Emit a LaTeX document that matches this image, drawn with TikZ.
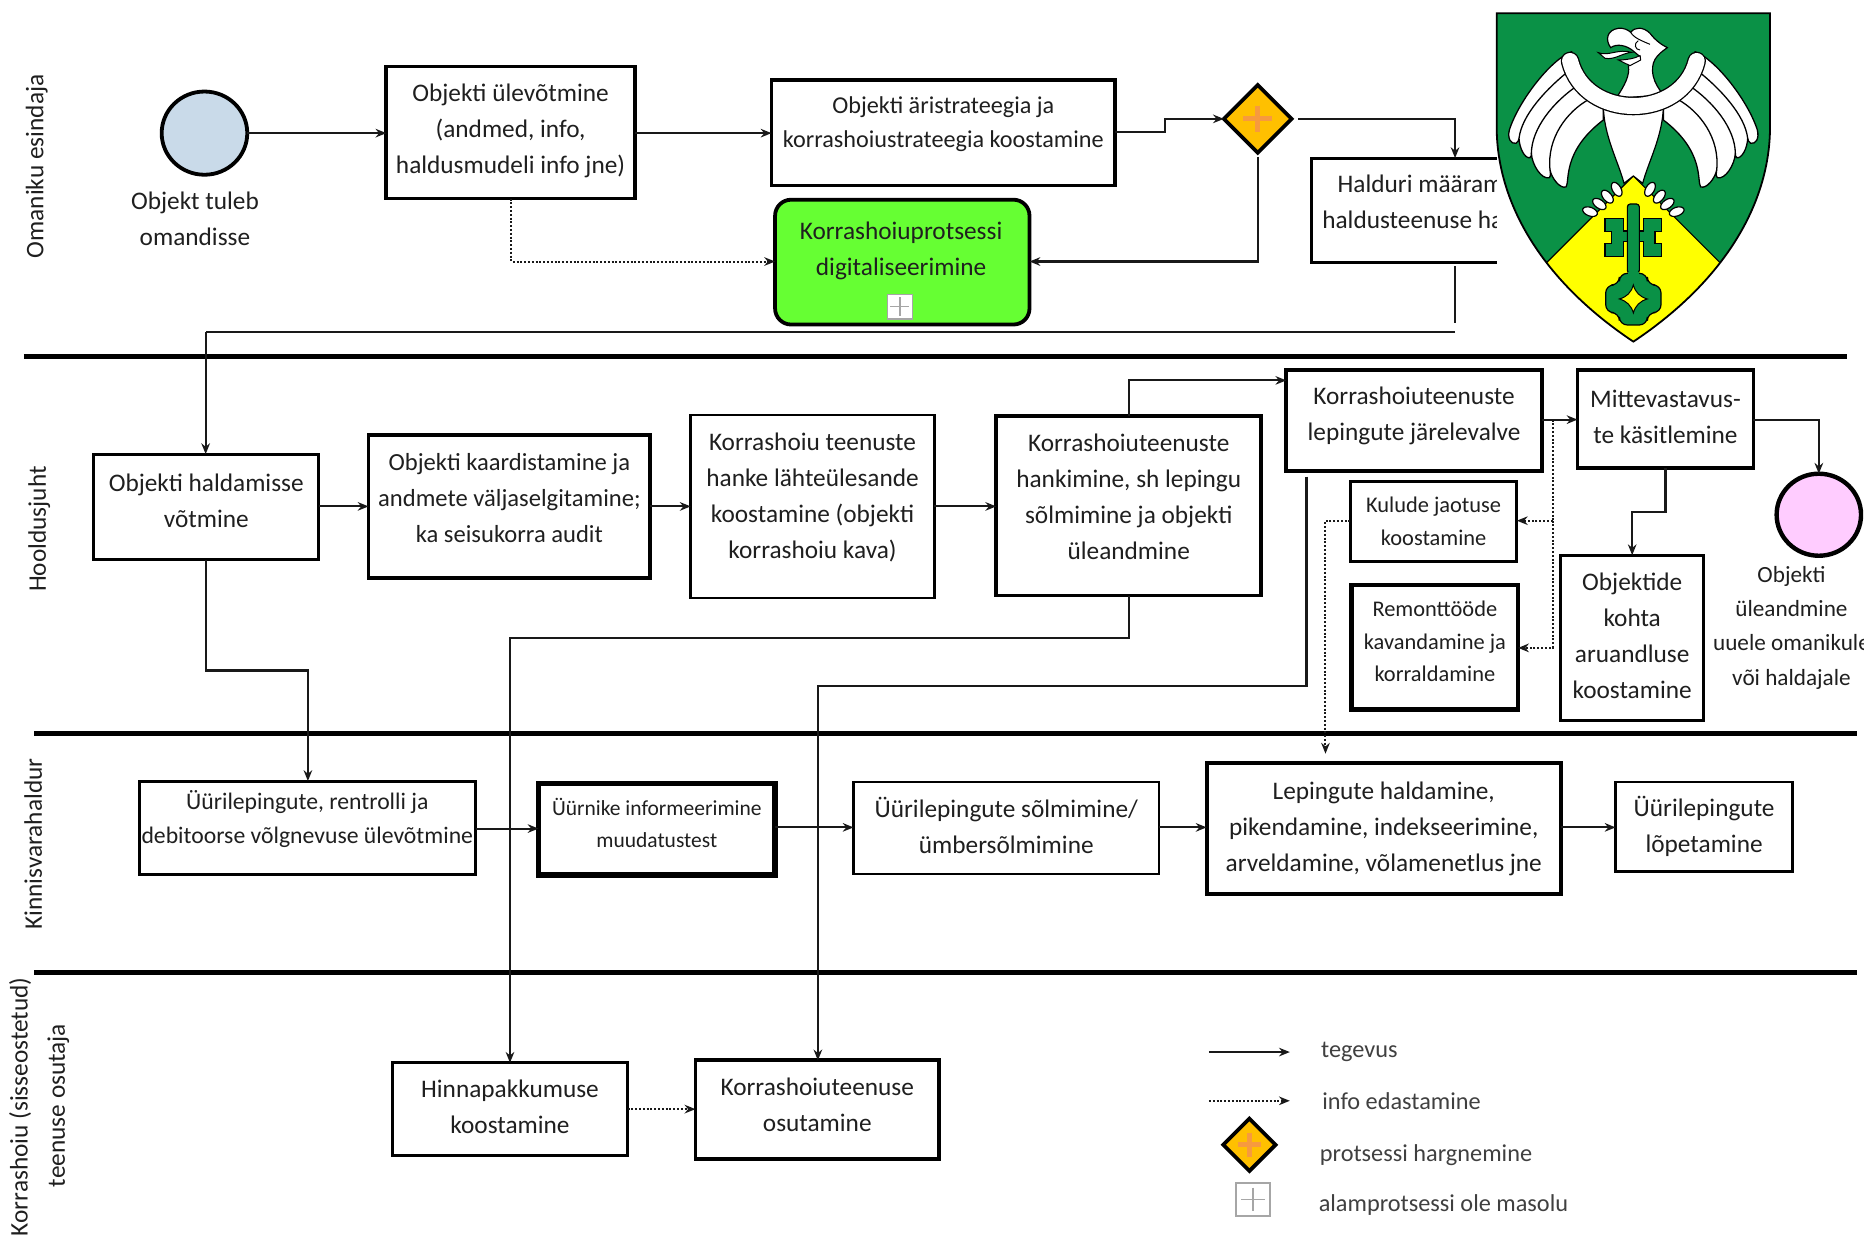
\documentclass[tikz,border=0pt]{standalone}
\usepackage{fontspec}
\setmainfont{Carlito}
\usetikzlibrary{arrows.meta,shapes.geometric}
\definecolor{ink}{HTML}{1F1F1F}
\definecolor{gold}{HTML}{FFC000}
\definecolor{plusc}{HTML}{F79A3E}
\definecolor{lime}{HTML}{66FF33}
\definecolor{startc}{HTML}{C9DAE9}
\definecolor{endc}{HTML}{FFCCFF}
\definecolor{crestg}{HTML}{0A9146}
\definecolor{cresty}{HTML}{FFFF00}
\def\uu{0.5944}
\newcommand\up[1]{\par\vspace{#1pt}}
\newcommand\bx[7]{\node[#2, minimum width={(#5-#3)*\uu}, minimum height={(#6-#4)*\uu}] (#1) at ({(#3+#5)/2},{(#4+#6)/2}) {#7};}
\newcommand\halfcrest{%
  \draw[black,fill=white,line width=.65pt,line join=round] (245,140) .. controls (180,165) and (85,290) .. (58,375) .. controls (52,400) and (62,418) .. (78,415) .. controls (84,412) and (86,405) .. (87,400) .. controls (88,430) and (105,462) .. (120,458) .. controls (124,455) and (124,450) .. (124,445) .. controls (126,480) and (155,525) .. (178,518) .. controls (184,512) and (180,500) .. (180,495) .. controls (185,520) and (210,552) .. (228,546) .. controls (240,530) and (215,440) .. (340,345) -- (340,300) -- (245,180) -- cycle;
  \draw[black,line width=.65pt] (240,195) .. controls (170,250) and (95,330) .. (87,400);
  \draw[black,line width=.65pt] (265,240) .. controls (190,290) and (125,370) .. (124,445);
  \draw[black,line width=.65pt] (297,283) .. controls (230,320) and (170,400) .. (180,495);
}
\newcommand\halfbow{%
  \draw[black,fill=crestg,line width=.6pt] (345,640)--(400,640)--(400,678)--(412,678)--(412,710)--(400,710)--(400,755)--(345,755)--(345,715)--(365,715)--(365,680)--(345,680)--cycle;
}
\newcommand\claws{%
  \foreach \xx/\yy/\aa in {380/553/-60,352/575/-50,328/597/-35,300/620/-20}{
    \draw[black,fill=white,line width=.6pt,rotate around={\aa:(\xx,\yy)}] (\xx,\yy) ellipse [x radius=23,y radius=13];}
}
\tikzset{
  fs/.style 2 args={font=\fontsize{#1}{#2}\selectfont},
  base/.style={draw=black,fill=white,inner sep=0pt,outer sep=0pt,align=center,text=ink,fs={12.65}{18}},
  thinbox/.style={base,line width=1.2pt},
  midbox/.style={base,line width=1.5pt},
  thickbox/.style={base,line width=1.9pt},
  heavybox/.style={base,line width=2.2pt},
  boldbox/.style={base,line width=2.8pt},
  greenbox/.style={base,line width=1.9pt,fill=lime,rounded corners=8pt},
  label/.style={inner sep=0pt,align=center,text=ink,fs={12.65}{18}},
  lanetext/.style={inner sep=0pt,align=center,text=ink,rotate=90,fs={12.65}{18}},
  legendtext/.style={inner sep=0pt,anchor=west,text=black!75,fs={12.15}{14}},
  lane/.style={line width=2.5pt,black},
  arr/.style={draw=black!90,line width=1.05pt,-{Stealth[length=5.4pt,width=4.3pt]}},
  plain/.style={draw=black!90,line width=1.05pt},
  dot/.style={draw=black!90,line width=1pt,dash pattern=on 1pt off .9pt,-{Stealth[length=5.4pt,width=4.3pt]}},
  dotplain/.style={draw=black!90,line width=1pt,dash pattern=on 1pt off .9pt},
  gate/.style={diamond,aspect=1,draw=black,fill=gold,line width=1.9pt,inner sep=0pt,outer sep=0pt},
  evt/.style={ellipse,draw=black,line width=1.9pt,inner sep=0pt,outer sep=0pt},
  sub/.style={draw=black!35,fill=white,line width=.7pt,inner sep=0pt,outer sep=0pt},
  plusmark/.style={plusc,line width=2.6pt},
  submark/.style={black!35,line width=.6pt},
}
\begin{document}
\begin{tikzpicture}[x=0.5944pt,y=-0.5944pt]
\useasboundingbox (0,0) rectangle (1568,1042.3);
\clip (0,0) rectangle (1568,1042.3);
\fill[white] (0,0) rectangle (1568,1042.3);
% lanes
\coordinate (l1a) at (20,300); \coordinate (l1b) at (1554,300);
\coordinate (l2a) at (29,617); \coordinate (l2b) at (1562,617);
\coordinate (l3a) at (29,818); \coordinate (l3b) at (1562,818);
\draw[lane] (l1a) -- (l1b); \draw[lane] (l2a) -- (l2b); \draw[lane] (l3a) -- (l3b);
\node[lanetext] (t1) at (31,140) {Omaniku esindaja};
\node[lanetext] (t2) at (33,445) {Hooldusjuht};
\node[lanetext] (t3) at (28,710) {Kinnisvarahaldur};
\node[lanetext] (t4) at (17,931) {Korrashoiu (sisseostetud)};
\node[lanetext] (t5) at (49,930) {teenuse osutaja};
% row 1
\node[evt,fill=startc,minimum width=72*\uu,minimum height=70*\uu] (start) at (172,112) {};
\node[label] (startl) at (164,184) {Objekt tuleb\\omandisse};
\bx{b1}{thickbox}{325}{56}{534}{167}{Objekti ülevõtmine\\(andmed, info,\\haldusmudeli info jne)\up{1.2}}
\bx{b2}{thickbox,fs={12.1}{17.3}}{649}{67}{938}{156}{Objekti äristrateegia ja\\korrashoiustrateegia koostamine\up{8.3}}
\node[gate,minimum width=57*\uu,minimum height=57*\uu] (gw) at (1058,100) {};
\draw[plusmark] (1058,89) -- (1058,111) (1046,100) -- (1070,100);
\bx{h}{midbox}{1103}{133}{1300}{221}{}
\node[label,anchor=west,align=left] (ht) at (1112,170) {\hspace*{7.7pt}Halduri määram\\haldusteenuse ha};
\bx{g}{greenbox}{652}{168}{866}{273}{}
\node[label] (gt) at (758,211) {Korrashoiuprotsessi\\digitaliseerimine};
\node[sub,minimum size=21*\uu] (gi) at (757,258) {};
\draw[submark] (757,250) -- (757,266) (749,258) -- (765,258);
\coordinate (j1) at (980,111); \coordinate (j2) at (980,100);
\coordinate (gwo) at (1092,100); \coordinate (gwb) at (1058,132);
\coordinate (hin) at (1224,133); \coordinate (gin) at (1058,220);
\coordinate (din) at (430,220);
\coordinate (ho) at (1224,224); \coordinate (ho2) at (1224,272);
\coordinate (ho3) at (1224,279); \coordinate (ho4) at (173,279);
\draw[arr] (start.east) -- (start.east -| b1.west);
\draw[arr] (b1.east |- 0,112) -- (b2.west |- 0,112);
\draw[arr] (b2.east |- j1) -- (j1) -- (j2) -- (gw.west);
\draw[arr] (gwo) -| (hin);
\draw[arr] (gwb) -- (gin) -- (gin -| g.east);
\draw[dot] (din |- b1.south) -- (din) -- (din -| g.west);
% row 2
\bx{c1}{midbox}{79}{382}{268}{471}{Objekti haldamisse\\võtmine\up{5.9}}
\bx{c2}{thickbox,fs={12.3}{18}}{310}{366}{547}{486}{Objekti kaardistamine ja\\andmete väljaselgitamine;\\ka seisukorra audit\up{8.3}}
\bx{c3}{thinbox}{581}{349}{786}{503}{Korrashoiu teenuste\\hanke lähteülesande\\koostamine (objekti\\korrashoiu kava)\up{8.9}}
\bx{c4}{thickbox}{838}{350}{1061}{501}{Korrashoiuteenuste\\hankimine, sh lepingu\\sõlmimine ja objekti\\üleandmine\up{8.9}}
\bx{c5}{heavybox}{1082}{311}{1297}{396}{Korrashoiuteenuste\\lepingute järelevalve\up{4.8}}
\bx{c6}{thickbox}{1327}{311}{1475}{394}{Mittevastavus-\\te käsitlemine\up{2.4}}
\bx{c7}{midbox,fs={11.2}{16.6}}{1136}{405}{1276}{472}{Kulude jaotuse\\koostamine}
\bx{c8}{heavybox,fs={11.2}{16.2}}{1137}{492}{1277}{597}{Remonttööde\\kavandamine ja\\korraldamine\up{5.9}}
\bx{c9}{midbox}{1313}{467}{1433}{606}{Objektide\\kohta\\aruandluse\\koostamine\up{2.4}}
\node[evt,fill=endc,line width=2.2pt,minimum width=71*\uu,minimum height=69*\uu] (endn) at (1530,433) {};
\node[label,fs={11.6}{17.1}] (endl) at (1507,528) {Objekti\\üleandmine\\uuele omanikule\\või haldajale};
\coordinate (k1) at (950,320);
\coordinate (m1) at (1401,431); \coordinate (m2) at (1373,431);
\coordinate (d0) at (1306,353); \coordinate (d1c) at (1306,438); \coordinate (d2c) at (1306,545);
\coordinate (d3c) at (1115,438);
\coordinate (s0) at (1099,401); \coordinate (s1) at (1099,577); \coordinate (s2) at (688,577);
\coordinate (n1) at (950,537); \coordinate (n2) at (429,537);
\coordinate (o1) at (173,564); \coordinate (o2) at (259,564);
\draw[arr] (ho4) -- (ho4 |- c1.north);
\draw[plain] (ho) -- (ho2);
\draw[plain] (ho3) -- (ho4);
\draw[arr] (c1.east |- 0,426) -- (c2.west |- 0,426);
\draw[arr] (c2.east |- 0,426) -- (c3.west |- 0,426);
\draw[arr] (c3.east |- 0,426) -- (c4.west |- 0,426);
\draw[arr] (k1 |- c4.north) -- (k1) -- (k1 -| c5.west);
\draw[arr] (c5.east |- d0) -- (d0 -| c6.west);
\draw[arr] (c6.east |- d0) -| (endn.north);
\draw[arr] (m1 |- c6.south) -- (m1) -- (m2) -- (m2 |- c9.north);
\draw[dotplain] (d0) -- (d1c);
\draw[dot] (d1c) -- (d1c -| c7.east);
\draw[dot] (d1c) -- (d2c) -- (d2c -| c8.east);
% row 3
\bx{e1}{midbox,fs={11.85}{17.3}}{117}{657}{400}{736}{Üürilepingute, rentrolli ja\\debitoorse võlgnevuse ülevõtmine\up{8.9}}
\bx{e2}{boldbox,fs={10.75}{16}}{453}{659}{652}{736}{Üürnike informeerimine\\muudatustest\up{5.9}}
\bx{e3}{thinbox}{718}{658}{975}{735}{Üürilepingute sõlmimine/\\ümbersõlmimine\up{2.4}}
\bx{e4}{thickbox}{1015}{642}{1313}{752}{Lepingute haldamine,\\pikendamine, indekseerimine,\\arveldamine, võlamenetlus jne}
\bx{e5}{thinbox}{1359}{658}{1508}{733}{Üürilepingute\\lõpetamine}
\draw[dot] (c7.west |- d3c) -- (d3c) -- (d3c |- 0,634);
\draw[arr] (c1.south -| o1) -- (o1) -- (o2) -- (e1.north -| o2);
\draw[arr] (e1.east |- 0,697) -- (e2.west |- 0,697);
\draw[arr] (e2.east |- 0,696) -- (e3.west |- 0,696);
\draw[arr] (e3.east |- 0,696) -- (e4.west |- 0,696);
\draw[arr] (e4.east |- 0,696) -- (e5.west |- 0,696);
% row 4
\bx{f1}{midbox}{330}{894}{528}{972}{Hinnapakkumuse\\koostamine\up{2.4}}
\bx{f2}{thickbox}{585}{892}{790}{975}{Korrashoiuteenuse\\osutamine\up{4.8}}
\draw[arr] (n1 |- c4.south) -- (n1) -- (n2) -- (n2 |- f1.north);
\draw[arr] (s0) -- (s1) -- (s2) -- (s2 |- f2.north);
\draw[dot] (f1.east |- 0,933) -- (f2.west |- 0,933);
% legend
\coordinate (la) at (1017,885); \coordinate (lb) at (1085,885);
\coordinate (lc) at (1017,926); \coordinate (ld) at (1085,926);
\draw[arr] (la) -- (lb);
\draw[dot] (lc) -- (ld);
\node[gate,minimum width=44*\uu,minimum height=44*\uu] (lgw) at (1051,963) {};
\draw[plusmark] (1051,953) -- (1051,973) (1041,963) -- (1061,963);
\node[sub,line width=1pt,minimum size=28*\uu] (lsub) at (1054,1009) {};
\draw[submark] (1054,999) -- (1054,1019) (1044,1009) -- (1064,1009);
\node[legendtext] (lt1) at (1111,885) {tegevus};
\node[legendtext] (lt2) at (1112,926) {info edastamine};
\node[legendtext] (lt3) at (1110,972) {protsessi hargnemine};
\node[legendtext] (lt4) at (1109,1014) {alamprotsessi ole masolu};
% crest
\fill[white] (1259,0) rectangle (1500,295);
\begin{scope}[shift={(1253.4,4.2)},x=0.16667pt,y=-0.16667pt]
\def\shield{(20,25) -- (840,25) -- (840,370) .. controls (838,600) and (700,830) .. (430,1010) .. controls (160,830) and (22,600) .. (20,370) -- cycle}
\fill[crestg] \shield;
\begin{scope}
\clip \shield;
\fill[cresty] (430,513) -- (1000,1083) -- (-140,1083) -- cycle;
\draw[black,line width=.6pt] (130,813) -- (430,513) -- (730,813);
\end{scope}
\draw[black,line width=.9pt] \shield;
% wings
\halfcrest
\begin{scope}[shift={(860,0)},xscale=-1]\halfcrest\end{scope}
% body
\draw[black,fill=white,line width=.6pt] (340,300) .. controls (340,390) and (385,470) .. (402,535) -- (430,513) -- (458,535) .. controls (475,470) and (520,390) .. (520,300) -- cycle;
% neck and head
\draw[black,fill=white,line width=.6pt] (378,280) .. controls (405,240) and (420,210) .. (415,183) -- (450,155) -- (432,140) .. controls (410,120) and (380,115) .. (362,128) .. controls (345,105) and (350,75) .. (385,70) .. controls (400,68) and (415,75) .. (422,82) .. controls (435,65) and (460,65) .. (480,85) .. controls (495,105) and (515,120) .. (532,128) .. controls (500,150) and (480,170) .. (490,215) .. controls (495,235) and (505,250) .. (520,270) -- cycle;
\draw[black,fill=white,line width=.5pt] (385,165) .. controls (410,165) and (435,160) .. (450,152) -- (452,165) .. controls (440,172) and (430,176) .. (420,182) -- cycle;
\draw[black,fill=white,line width=.5pt] (325,143) .. controls (355,155) and (385,130) .. (425,142) .. controls (395,145) and (375,165) .. (345,160) -- cycle;
\draw[black,line width=.5pt] (422,82) .. controls (428,92) and (435,100) .. (480,118);
\draw[black,line width=.5pt] (445,107) .. controls (430,115) and (435,135) .. (450,135);
% collar
\draw[black,line width=9.3pt,line cap=round] (240,168) .. controls (285,348) and (575,348) .. (620,168);
\draw[white,line width=8pt,line cap=round] (240,168) .. controls (285,348) and (575,348) .. (620,168);
% claws
\claws
\begin{scope}[shift={(860,0)},xscale=-1]\claws\end{scope}
% key
\halfbow
\begin{scope}[shift={(860,0)},xscale=-1]\halfbow\end{scope}
\draw[black,fill=crestg,line width=.6pt,rounded corners=1.5pt] (412,805) -- (412,597) -- (448,597) -- (448,805) -- cycle;
\draw[black,fill=crestg,line width=.6pt,rounded corners=4pt] (388,805) -- (472,805) -- (472,840) -- (513,840) -- (513,923) -- (472,923) -- (472,960) -- (388,960) -- (388,923) -- (347,923) -- (347,840) -- (388,840) -- cycle;
\fill[crestg] (413,800) rectangle (447,815);
\draw[black,fill=cresty,line width=.5pt] (430,840) .. controls (436,862) and (450,876) .. (472,882) .. controls (450,888) and (436,902) .. (430,924) .. controls (424,902) and (410,888) .. (388,882) .. controls (410,876) and (424,862) .. (430,840) -- cycle;
\end{scope}
\end{tikzpicture}
\end{document}
